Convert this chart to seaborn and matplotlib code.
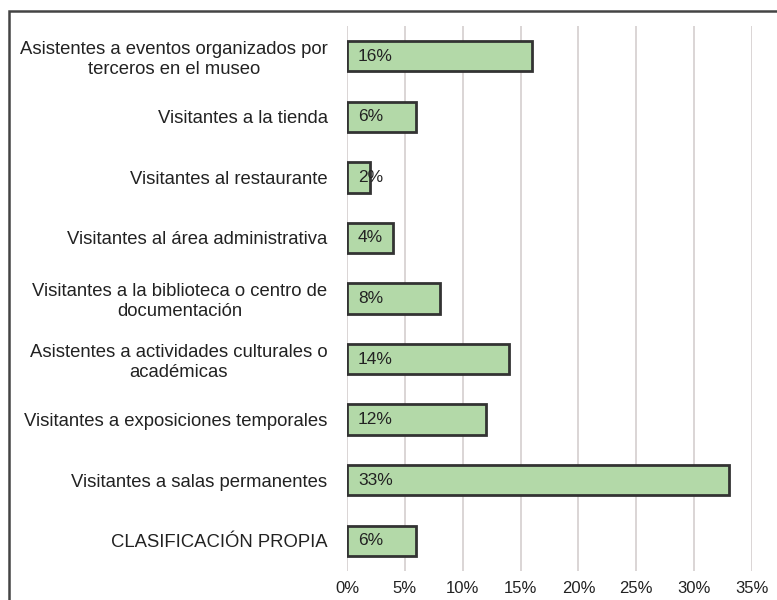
import matplotlib.pyplot as plt
import matplotlib.patches as mpatches
import seaborn as sns
import pandas as pd

# datos
categorias = [
    "Asistentes a eventos organizados por\nterceros en el museo",
    "Visitantes a la tienda",
    "Visitantes al restaurante",
    "Visitantes al área administrativa",
    "Visitantes a la biblioteca o centro de\ndocumentación",
    "Asistentes a actividades culturales o\nacadémicas",
    "Visitantes a exposiciones temporales",
    "Visitantes a salas permanentes",
    "CLASIFICACIÓN PROPIA",
]
porcentajes = [16, 6, 2, 4, 8, 14, 12, 33, 6]
ticks_x = [0, 5, 10, 15, 20, 25, 30, 35]

df = pd.DataFrame({"cat": categorias, "pct": porcentajes})

sns.set_style("white")
plt.rcParams["font.family"] = ["Liberation Sans", "DejaVu Sans"]

fig = plt.figure(figsize=(7.77, 6), dpi=100)
ax = fig.add_axes([347 / 777, 1 - 571 / 600, (752 - 347) / 777, 545 / 600])

sns.barplot(data=df, x="pct", y="cat", orient="h", color="#b3d9a8",
            saturation=1, edgecolor="#333333", linewidth=2, width=0.5, ax=ax)

# etiquetas dentro de las barras
for p, v in zip(ax.patches, porcentajes):
    ax.annotate(f"{v}%", (0, p.get_y() + p.get_height() / 2),
                xytext=(8, 0), textcoords="offset points",
                ha="left", va="center", fontsize=12.5, color="#222222")

ax.set_xlim(0, 35)
ax.set_ylim(8.5, -0.5)
ax.set_xticks(ticks_x)
ax.set_xticklabels([f"{t}%" for t in ticks_x], fontsize=12, color="#222222")
ax.set_yticks(range(len(categorias)))
ax.set_yticklabels(categorias, fontsize=13.3, color="#222222",
                   multialignment="center")
ax.tick_params(axis="x", length=0, pad=7)
ax.tick_params(axis="y", length=0, pad=14)
ax.set_xlabel("")
ax.set_ylabel("")
ax.grid(axis="x", color="#d8d2d2", linewidth=1.3)
ax.set_axisbelow(True)
for s in ax.spines.values():
    s.set_visible(False)

# marco exterior
marco = mpatches.Rectangle((9 / 777, -0.05), 1.1, 1 - 11 / 600 + 0.05,
                           transform=fig.transFigure, fill=False,
                           edgecolor="#444444", linewidth=1.8)
fig.patches.append(marco)

fig.savefig("out.png", dpi=100)
